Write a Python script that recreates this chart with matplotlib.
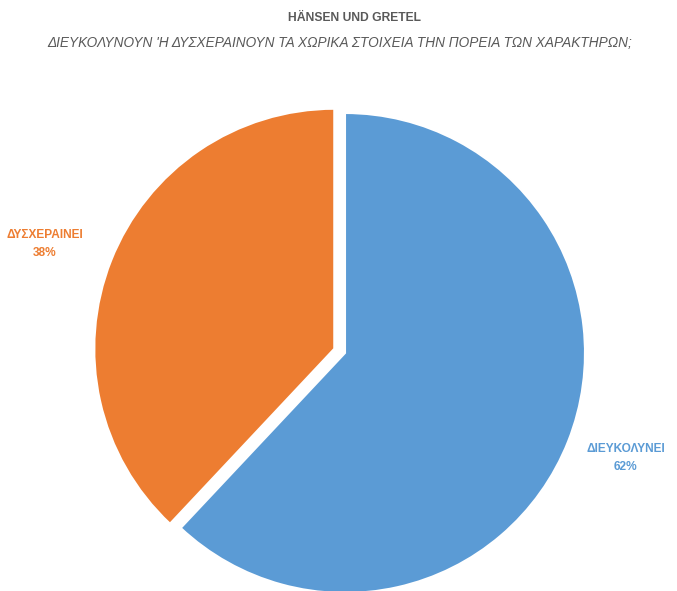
import matplotlib.pyplot as plt

categories = ['ΔΙΕΥΚΟΛΥΝΕΙ', 'ΔΥΣΧΕΡΑΙΝΕΙ']
shares = [62, 38]
colors = ['#5B9BD5', '#ED7D31']

title = 'HÄNSEN UND GRETEL'
subtitle = "ΔΙΕΥΚΟΛΥΝΟΥΝ 'Η ΔΥΣΧΕΡΑΙΝΟΥΝ ΤΑ ΧΩΡΙΚΑ ΣΤΟΙΧΕΙΑ ΤΗΝ ΠΟΡΕΙΑ ΤΩΝ ΧΑΡΑΚΤΗΡΩΝ;"

plt.rcParams['font.family'] = ['Liberation Sans', 'DejaVu Sans']

W, H = 677, 591
fig = plt.figure(figsize=(W / 100, H / 100), dpi=100)
fig.patch.set_facecolor('white')

# pie centre at (345, 353) px, radius 240 px
cx, cy, r = 345, 353, 240
span = 1.2 * r
ax = fig.add_axes([(cx - span) / W, 1 - (cy + span) / H, 2 * span / W, 2 * span / H])
ax.pie(shares, colors=colors, startangle=90, counterclock=False,
       explode=[0, 0.048], radius=1,
       wedgeprops=dict(edgecolor='white', linewidth=1.5))
ax.set_xlim(-1.2, 1.2)
ax.set_ylim(-1.2, 1.2)
ax.set_aspect('equal')
ax.axis('off')

fig.text(354 / W, 1 - 18 / H, title, ha='center', va='center',
         fontsize=8.7, fontweight='bold', color='#595959')
fig.text(340 / W, 1 - 43 / H, subtitle, ha='center', va='center',
         fontsize=9.8, style='italic', color='#595959')

label_pos = [(626, 458), (45, 244)]
for name, val, col, (px, py) in zip(categories, shares, colors, label_pos):
    fig.text(px / W, 1 - py / H, f'{name}\n{val}%', ha='center', va='center',
             fontsize=8.6, fontweight='bold', color=col, linespacing=1.6)

fig.savefig('out.png', dpi=100)
